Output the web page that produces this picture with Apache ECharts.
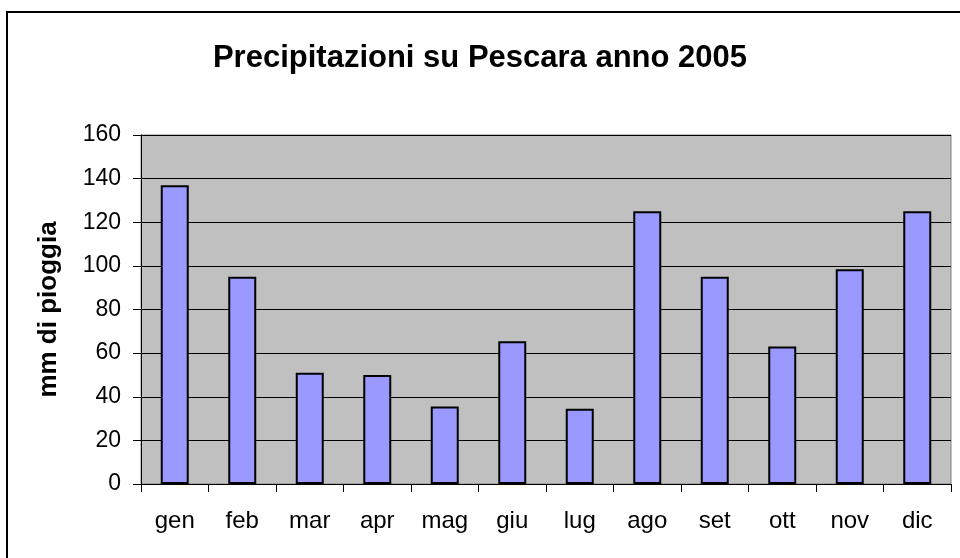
<!DOCTYPE html>
<html>
<head>
<meta charset="utf-8">
<script src="https://cdn.jsdelivr.net/npm/echarts@6/dist/echarts.min.js"></script>
<style>
  html, body { margin: 0; padding: 0; background: #fff; }
  #chart { width: 960px; height: 558px; }
</style>
</head>
<body>
<div id="chart"></div>
<script>
const months = ['gen', 'feb', 'mar', 'apr', 'mag', 'giu', 'lug', 'ago', 'set', 'ott', 'nov', 'dic'];
const rainMm = [137, 95, 51, 50, 35.5, 65.5, 34.5, 125, 95, 63, 98.5, 125];

const chart = echarts.init(document.getElementById('chart'));
const font = '"Liberation Sans", Arial, sans-serif';

chart.setOption({
    animation: false,
    title: {
        text: 'Precipitazioni su Pescara anno 2005',
        left: 'center',
        top: 38,
        textStyle: { fontFamily: font, fontSize: 31, fontWeight: 'bold', color: '#000' }
    },
    graphic: [{
        type: 'rect',
        shape: { x: 7, y: 12, width: 980, height: 580 },
        style: { fill: null, stroke: '#000', lineWidth: 2 },
        z: -1
    }],
    grid: {
        left: 141, right: 9, top: 135, bottom: 74,
        show: true,
        backgroundColor: '#c0c0c0',
        borderColor: '#808080',
        borderWidth: 1
    },
    xAxis: {
        type: 'category',
        data: months,
        axisLine: { lineStyle: { color: '#000', width: 1 } },
        axisTick: { show: true, length: 8, lineStyle: { color: '#000' } },
        axisLabel: { fontFamily: font, fontSize: 24, color: '#000', margin: 25 }
    },
    yAxis: {
        type: 'value',
        min: 0, max: 160, interval: 20,
        name: 'mm di pioggia',
        nameLocation: 'middle',
        nameGap: 79,
        nameRotate: 90,
        nameTextStyle: { fontFamily: font, fontSize: 26, fontWeight: 'bold', color: '#000' },
        axisLine: { show: true, lineStyle: { color: '#000', width: 1 } },
        axisTick: { show: true, length: 8, lineStyle: { color: '#000' } },
        axisLabel: { fontFamily: font, fontSize: 23, color: '#000', margin: 20 },
        splitLine: { lineStyle: { color: '#000', width: 1 } }
    },
    series: [{
        type: 'bar',
        data: rainMm,
        barWidth: 28,
        itemStyle: { color: '#9999ff', borderColor: '#000', borderWidth: 2 }
    }]
});
</script>
</body>
</html>
